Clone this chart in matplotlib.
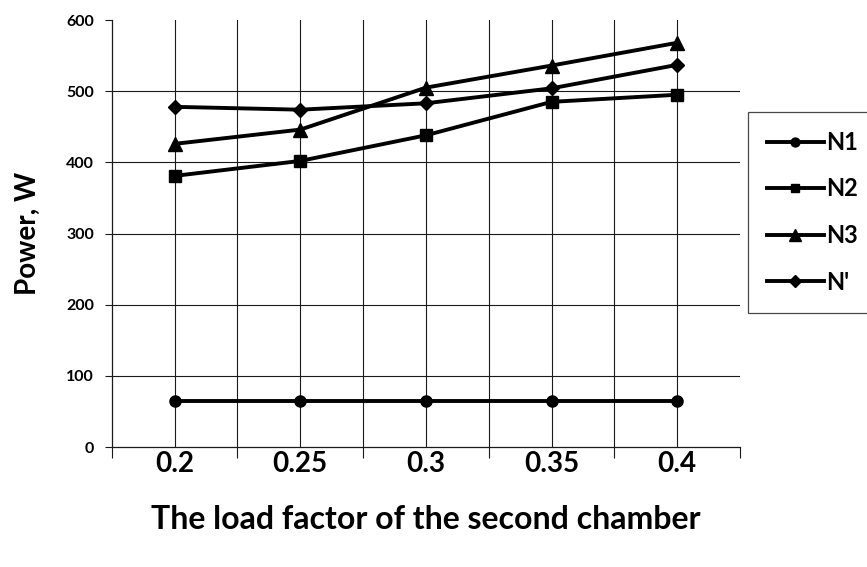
import matplotlib.pyplot as plt

plt.rcParams['font.family'] = ['Lato', 'DejaVu Sans']

# load factor of the second chamber
x_labels = ['0.2', '0.25', '0.3', '0.35', '0.4']

# power, W
n1 = [65, 65, 65, 65, 65]
n2 = [381, 402, 438, 485, 495]
n3 = [426, 446, 505, 536, 568]
n_prime = [478, 474, 483, 504, 537]

series = [('N1', n1, 'o'), ('N2', n2, 's'), ('N3', n3, '^'), ("N'", n_prime, 'D')]

fig = plt.figure(figsize=(8.67, 5.67), dpi=100)
ax = fig.add_axes([0.129, 0.2116, 0.7245, 0.7531])

x = list(range(len(x_labels)))
msize = {'o': 8, 's': 8, '^': 10, 'D': 7.5}
for name, vals, m in series:
    ax.plot(x, vals, color='black', lw=2.8, marker=m, ms=msize[m], label=name, zorder=3)

ax.set_xlim(-0.5, len(x_labels) - 0.5)
ax.set_ylim(0, 600)

# grid: category centres and boundaries, horizontal lines inside
for xv in x:
    ax.axvline(xv, color='#1a1a1a', lw=0.8, zorder=1)
for xv in [i + 0.5 for i in x[:-1]]:
    ax.axvline(xv, color='#1a1a1a', lw=0.8, zorder=1)
for yv in range(100, 600, 100):
    ax.axhline(yv, color='#1a1a1a', lw=0.8, zorder=1)

ax.set_xticks(x)
ax.set_xticklabels(x_labels, fontsize=20, fontweight='bold')
ax.tick_params(axis='x', which='major', length=0, pad=3)
ax.set_xticks([i - 0.5 for i in range(len(x_labels) + 1)], minor=True)
ax.tick_params(axis='x', which='minor', length=8, width=0.8, color='#1a1a1a')

ax.set_yticks(range(0, 700, 100))
ax.set_yticklabels([str(v) for v in range(0, 700, 100)], fontsize=11.5, fontweight='bold')
ax.tick_params(axis='y', length=5, width=0.8, color='#1a1a1a', pad=8)

for s in ['top', 'right']:
    ax.spines[s].set_visible(False)
for s in ['left', 'bottom']:
    ax.spines[s].set_color('#1a1a1a')
    ax.spines[s].set_linewidth(0.9)

ax.set_ylabel('Power, W', fontsize=20, fontweight='bold', labelpad=18)
ax.set_xlabel('The load factor of the second chamber', fontsize=23, fontweight='bold', labelpad=20)

leg = fig.legend(loc='upper left', bbox_to_anchor=(748 / 867, 1 - 112 / 567),
                 frameon=True, fancybox=False, prop={'weight': 'bold', 'size': 17},
                 handlelength=2.4, handletextpad=0.1, labelspacing=1.0,
                 borderpad=0.8, borderaxespad=0, markerscale=0.8)
leg.get_frame().set_edgecolor('#1a1a1a')
leg.get_frame().set_linewidth(0.9)

fig.savefig('out.png', dpi=100)
